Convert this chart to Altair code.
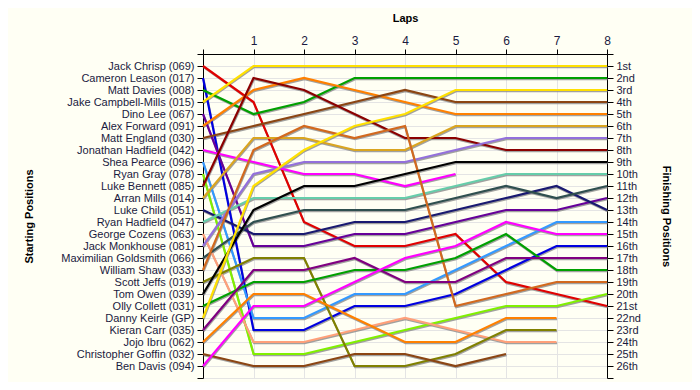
import json
import altair as alt
import pandas as pd

drivers = [
    "Jack Chrisp (069)", "Cameron Leason (017)", "Matt Davies (008)",
    "Jake Campbell-Mills (015)", "Dino Lee (067)", "Alex Forward (091)",
    "Matt England (030)", "Jonathan Hadfield (042)", "Shea Pearce (096)",
    "Ryan Gray (078)", "Luke Bennett (085)", "Arran Mills (014)",
    "Luke Child (051)", "Ryan Hadfield (047)", "George Cozens (063)",
    "Jack Monkhouse (081)", "Maximilian Goldsmith (066)", "William Shaw (033)",
    "Scott Jeffs (019)", "Tom Owen (039)", "Olly Collett (031)",
    "Danny Keirle (GP)", "Kieran Carr (035)", "Jojo Ibru (062)",
    "Christopher Goffin (032)", "Ben Davis (094)",
]

colors = [
    "#E00000", "#0000E0", "#00A000", "#FFE000", "#660099", "#FF8000",
    "#8B4513", "#FF00FF", "#3399FF", "#80F000", "#8B0000", "#DAA520",
    "#191970", "#66CDAA", "#FFA07A", "#9370DB", "#2F4F4F", "#D2691E",
    "#808000", "#000000", "#00A000", "#FFE000", "#800080", "#FF8000",
    "#8B4513", "#FF00FF",
]

finish_labels = [
    "1st", "2nd", "3rd", "4th", "5th", "6th", "7th", "8th", "9th", "10th",
    "11th", "12th", "13th", "14th", "15th", "16th", "17th", "18th", "19th",
    "20th", "21st", "22nd", "23rd", "24th", "25th", "26th",
]

laps = [0, 1, 2, 3, 4, 5, 6, 7, 8]

# position of each driver (in the order of `drivers`) after each lap
lap_0 = [1, 2, 3, 4, 5, 6, 7, 8, 9, 10, 11, 12, 13, 14, 15, 16, 17, 18, 19, 20, 21, 22, 23, 24, 25, 26]
lap_1 = [4, 23, 5, 1, 16, 3, 6, 9, 22, 25, 2, 7, 15, 12, 24, 10, 14, 8, 17, 13, 19, 11, 18, 20, 26, 21]
lap_2 = [14, 23, 4, 1, 16, 2, 5, 10, 22, 25, 3, 7, 15, 12, 24, 9, 13, 6, 17, 11, 19, 8, 18, 20, 26, 21]
lap_3 = [16, 21, 2, 1, 15, 3, 4, 10, 20, 24, 5, 8, 14, 12, 23, 9, 13, 7, 26, 11, 18, 6, 17, 22, 25, 19]
lap_4 = [16, 21, 2, 1, 15, 4, 3, 11, 20, 23, 7, 8, 14, 12, 22, 9, 13, 6, 26, 10, 18, 5, 19, 24, 25, 17]
lap_5 = [15, 20, 2, 1, 14, 5, 4, 10, 18, 22, 7, 6, 13, 11, 23, 8, 12, 21, 25, 9, 17, 3, 19, 24, 26, 16]
lap_6 = [19, 18, 2, 1, 13, 5, 4, None, 16, 21, 8, 6, 12, 10, 24, 7, 11, 20, 23, 9, 15, 3, 17, 22, 25, 14]
lap_7 = [20, 16, 2, 1, 13, 5, 4, None, 14, 21, 8, 6, 11, 10, 24, 7, 12, 19, 23, 9, 18, 3, 17, 22, None, 15]
lap_8 = [21, 16, 2, 1, 12, 5, 4, None, 14, 20, 8, 6, 13, 10, None, 7, 11, 19, None, 9, 18, 3, 17, None, None, 15]

all_laps = [lap_0, lap_1, lap_2, lap_3, lap_4, lap_5, lap_6, lap_7, lap_8]

rows = []
for lap, positions in zip(laps, all_laps):
    for name, pos in zip(drivers, positions):
        if pos is not None:
            rows.append({"driver": name, "lap": lap, "pos": pos})
df = pd.DataFrame(rows)

FONT = "Liberation Sans"
TEXT = "#1a1a40"

x_scale = alt.Scale(domain=[0, 8], nice=False, zero=False)
y_scale = alt.Scale(domain=[0, 27], reverse=True, nice=False, zero=False)

x_axis = alt.Axis(
    orient="top", values=laps, labelExpr="datum.value == 0 ? '' : datum.label",
    title="Laps", titleFont=FONT, titleFontSize=11, titleFontWeight="bold",
    titleColor="#000000", titleY=-33, titleBaseline="alphabetic",
    labelFont=FONT, labelFontSize=12, labelColor=TEXT, labelPadding=2,
    tickSize=5, tickColor="#000000", domainColor="#000000",
    grid=True, gridColor="#E4E4E4", labelFlush=False,
)

left_axis = alt.Axis(
    orient="left", values=list(range(28)),
    labelExpr="datum.value >= 1 && datum.value <= 26 ? "
    + json.dumps(drivers) + "[datum.value - 1] : ''",
    title="Starting Positions", titleFont=FONT, titleFontSize=11,
    titleFontWeight="bold", titleColor="#000000", titleAngle=270,
    titleX=-171, titleY=162, titleAlign="center", titleBaseline="alphabetic",
    labelFont=FONT, labelFontSize=11, labelColor=TEXT, labelPadding=3,
    tickSize=6, tickColor="#000000", domainColor="#000000",
    grid=True, gridColor="#E4E4E4", labelFlush=False, labelOverlap=False,
)

right_axis = alt.Axis(
    orient="right", values=list(range(28)),
    labelExpr="datum.value >= 1 && datum.value <= 26 ? "
    + json.dumps(finish_labels) + "[datum.value - 1] : ''",
    title="Finishing Positions", titleFont=FONT, titleFontSize=11,
    titleFontWeight="bold", titleColor="#000000", titleAngle=90,
    titleX=55, titleY=162, titleAlign="center", titleBaseline="alphabetic",
    labelFont=FONT, labelFontSize=11, labelColor=TEXT, labelPadding=3,
    tickSize=6, tickColor="#000000", domainColor="#000000",
    grid=False, labelFlush=False, labelOverlap=False,
)

shadow = alt.Chart(df).mark_line(
    color="#8A8A8A", strokeWidth=2, xOffset=0.6, yOffset=1.3, opacity=0.8
).encode(
    x=alt.X("lap:Q", scale=x_scale, axis=x_axis),
    y=alt.Y("pos:Q", scale=y_scale, axis=right_axis),
    detail="driver:N",
    order=alt.Order("lap:Q"),
)

lines = alt.Chart(df).mark_line(strokeWidth=2.2).encode(
    x=alt.X("lap:Q", scale=x_scale, axis=x_axis),
    y=alt.Y("pos:Q", scale=y_scale, axis=left_axis),
    color=alt.Color("driver:N", scale=alt.Scale(domain=drivers, range=colors), legend=None),
    order=alt.Order("lap:Q"),
)

chart = (
    alt.layer(shadow, lines)
    .resolve_scale(x="shared", y="shared")
    .resolve_axis(x="shared", y="independent")
    .properties(
        width=404, height=324,
        autosize=alt.AutoSizeParams(type="none"),
        padding={"left": 195, "top": 46, "right": 85, "bottom": 4},
        background="#FFFFF4",
    )
    .configure_view(stroke=None)
)

chart.save("out.html", embed_options={"renderer": "svg", "actions": False})
